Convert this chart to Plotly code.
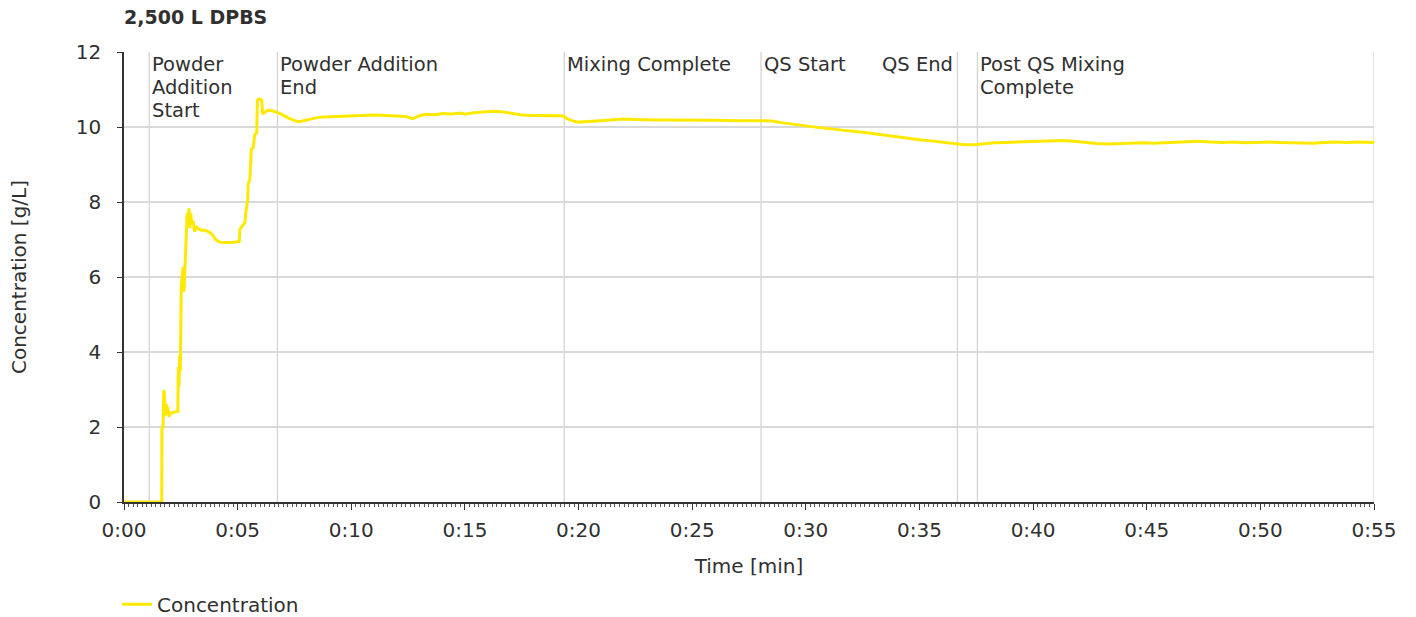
import plotly.graph_objects as go

# ---- data ----
time_min = [
    0.0, 1.66, 1.67, 1.72, 1.75, 1.78, 1.82, 1.86, 1.92, 1.98, 2.05, 2.20, 2.37,
    2.39, 2.42, 2.45, 2.48, 2.52, 2.55, 2.60, 2.64, 2.68, 2.72, 2.78, 2.82, 2.86,
    2.90, 2.94, 2.98, 3.04, 3.10, 3.18, 3.27, 3.40, 3.56, 3.75, 3.90, 4.00, 4.10,
    4.22, 4.37, 4.60, 4.85, 5.07, 5.10, 5.20, 5.32, 5.36, 5.44, 5.47, 5.54, 5.60,
    5.69, 5.75, 5.84, 5.87, 5.95, 6.06, 6.10, 6.20, 6.35,
    6.6, 6.9, 7.2, 7.5, 7.7, 7.9, 8.2, 8.5, 8.8, 9.2, 9.6, 10.0, 10.5, 11.0,
    11.5, 12.0, 12.4, 12.7, 13.0, 13.3, 13.7, 14.0, 14.4, 14.8, 15.0, 15.4,
    15.8, 16.2, 16.6, 16.9, 17.1, 17.5, 18.0, 18.5, 19.0, 19.3, 19.5, 19.7,
    20.0, 20.4, 20.8, 21.2, 21.6, 22.0, 22.5, 23.0, 23.5, 24.0, 24.5, 25.0,
    25.5, 26.0, 26.5, 27.0, 27.5, 28.0, 28.5, 29.0, 29.5, 30.0, 30.5, 31.0,
    31.5, 32.0, 32.5, 33.0, 33.5, 34.0, 34.5, 35.0, 35.5, 36.0, 36.5, 37.0,
    37.4, 37.8, 38.3, 38.8, 39.3, 39.8, 40.3, 40.8, 41.3, 41.8, 42.3, 42.8,
    43.3, 43.8, 44.3, 44.8, 45.3, 45.8, 46.3, 46.8, 47.3, 47.8, 48.3, 48.8,
    49.3, 49.8, 50.3, 50.8, 51.3, 51.8, 52.3, 52.8, 53.3, 53.8, 54.3, 55.0,
]
concentration = [
    0.0, 0.0, 1.96, 2.0, 2.99, 2.85, 2.3, 2.6, 2.5, 2.28, 2.37, 2.4, 2.42,
    3.6, 3.07, 3.92, 3.5, 5.74, 5.9, 6.27, 5.61, 6.35, 6.5, 7.7, 7.55, 7.83,
    7.3, 7.7, 7.4, 7.5, 7.21, 7.35, 7.28, 7.25, 7.25, 7.2, 7.12, 7.02, 6.97,
    6.93, 6.92, 6.92, 6.93, 6.95, 7.28, 7.35, 7.45, 7.72, 8.05, 8.5, 8.6, 9.4,
    9.45, 9.79, 9.85, 10.72, 10.75, 10.72, 10.35, 10.4, 10.45,
    10.42, 10.35, 10.25, 10.17, 10.14, 10.17, 10.22, 10.25, 10.27, 10.28, 10.30,
    10.31, 10.32, 10.32, 10.31, 10.30, 10.28, 10.22, 10.30, 10.34, 10.33, 10.36,
    10.35, 10.37, 10.34, 10.38, 10.41, 10.42, 10.41, 10.38, 10.34, 10.32, 10.31,
    10.30, 10.31, 10.30, 10.22, 10.17, 10.13, 10.14, 10.16, 10.18, 10.20, 10.21,
    10.20, 10.19, 10.19, 10.19, 10.18, 10.19, 10.18, 10.18, 10.17, 10.17, 10.17,
    10.17, 10.16, 10.11, 10.06, 10.03, 9.99, 9.95, 9.92, 9.89, 9.86, 9.83, 9.78,
    9.74, 9.69, 9.66, 9.63, 9.60, 9.56, 9.53, 9.53, 9.56, 9.58, 9.59, 9.60,
    9.62, 9.62, 9.63, 9.64, 9.62, 9.58, 9.56, 9.55, 9.56, 9.57, 9.58, 9.57,
    9.58, 9.59, 9.61, 9.62, 9.60, 9.59, 9.60, 9.58, 9.59, 9.60, 9.59, 9.58,
    9.58, 9.57, 9.59, 9.60, 9.59, 9.60, 9.59,
]
event_times = [1.11, 6.75, 19.37, 28.03, 36.67, 37.55]
event_labels = [
    ["Powder", "Addition", "Start"],
    ["Powder Addition", "End"],
    ["Mixing Complete"],
    ["QS Start"],
    ["QS End"],
    ["Post QS Mixing", "Complete"],
]
event_anchor = ["left", "left", "left", "left", "right", "left"]
x_tick_vals = [0, 5, 10, 15, 20, 25, 30, 35, 40, 45, 50, 55]
x_tick_text = ["0:00", "0:05", "0:10", "0:15", "0:20", "0:25", "0:30",
               "0:35", "0:40", "0:45", "0:50", "0:55"]

FONT = "'DejaVu Sans', 'Open Sans', sans-serif"
TXT = "#303030"
FS = 20
ANN_FS = 19.5
LINE_STEP = 22.8

fig = go.Figure()
fig.add_trace(go.Scatter(
    x=time_min, y=concentration, mode="lines", name="Concentration",
    line=dict(color="#FFE900", width=3),
))

for t, lines, anc in zip(event_times, event_labels, event_anchor):
    fig.add_shape(type="line", xref="x", yref="paper", x0=t, x1=t, y0=0, y1=1,
                  line=dict(color="#d4d4d4", width=1.3), layer="below")
    for i, ln in enumerate(lines):
        fig.add_annotation(x=t, y=1, xref="x", yref="paper", text=ln,
                           showarrow=False, xanchor=anc, yanchor="top", align="left",
                           xshift=1 if anc == "left" else -2,
                           yshift=1 - i * LINE_STEP,
                           font=dict(family=FONT, size=ANN_FS, color=TXT))

# right border
fig.add_shape(type="line", xref="x", yref="paper", x0=55, x1=55, y0=0, y1=1,
              line=dict(color="#d4d4d4", width=1.3), layer="below")

fig.update_layout(
    width=1416, height=617,
    margin=dict(l=124, r=42, t=52, b=115, autoexpand=False),
    paper_bgcolor="white", plot_bgcolor="white",
    font=dict(family=FONT, size=FS, color=TXT),
    title=dict(text="2,500 L DPBS", x=0, xref="paper", xanchor="left",
               y=0.982, yanchor="top", pad=dict(t=0, l=0),
               font=dict(family=FONT, size=19, color=TXT, weight="bold")),
    showlegend=True,
    legend=dict(orientation="h", x=-0.0056, xanchor="left", y=-0.184, yanchor="top",
                font=dict(family=FONT, size=FS, color=TXT), itemwidth=30),
    xaxis=dict(
        range=[0, 55], tickmode="array", tickvals=x_tick_vals, ticktext=x_tick_text,
        automargin=False,
        showgrid=False, zeroline=False, showline=True, linecolor="#333333",
        linewidth=1.5, ticks="outside", ticklen=6, tickcolor="#333333",
        ticklabelstandoff=3,
        tickfont=dict(family=FONT, size=FS, color=TXT),
        minor=dict(dtick=0.2, tick0=0, ticks="outside", ticklen=3,
                   tickcolor="#555555", showgrid=False),
        title=dict(text="Time [min]", standoff=18,
                   font=dict(family=FONT, size=FS, color=TXT)),
    ),
    yaxis=dict(
        range=[0, 12], dtick=2, showgrid=True, gridcolor="#d9d9d9", gridwidth=1.5,
        automargin=False,
        zeroline=False, showline=True, linecolor="#333333", linewidth=1.5,
        ticks="outside", ticklen=5, tickcolor="#333333",
        ticklabelstandoff=12,
        tickfont=dict(family=FONT, size=FS, color=TXT),
        title=dict(text="Concentration [g/L]", standoff=44,
                   font=dict(family=FONT, size=FS, color=TXT)),
    ),
)

fig.write_html("out.html", config={"displayModeBar": False},
               post_script="document.body.style.margin='0px';")
